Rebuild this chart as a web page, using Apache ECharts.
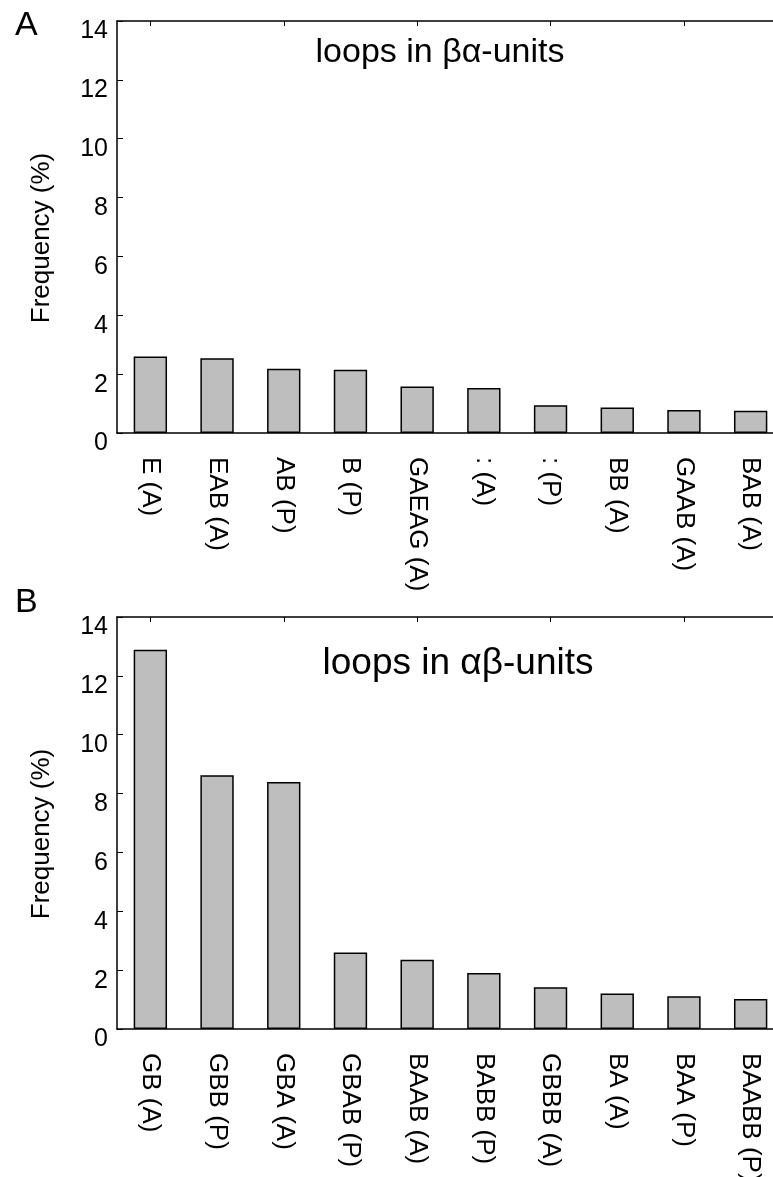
<!DOCTYPE html>
<html>
<head>
<meta charset="utf-8">
<script src="https://cdn.jsdelivr.net/npm/echarts@6/dist/echarts.min.js"></script>
<style>
html,body{margin:0;padding:0;background:#fff;}
#chart{width:773px;height:1177px;}
</style>
</head>
<body>
<div id="chart"></div>
<script>
// ---- data ----
const catsA = ['E (A)', 'EAB (A)', 'AB (P)', 'B (P)', 'GAEAG (A)', ': (A)', ': (P)', 'BB (A)', 'GAAB (A)', 'BAB (A)'];
const valsA = [2.60, 2.54, 2.18, 2.15, 1.58, 1.53, 0.94, 0.87, 0.78, 0.76];
const catsB = ['GB (A)', 'GBB (P)', 'GBA (A)', 'GBAB (P)', 'BAAB (A)', 'BABB (P)', 'GBBB (A)', 'BA (A)', 'BAA (P)', 'BAABB (P)'];
const valsB = [12.89, 8.62, 8.39, 2.60, 2.35, 1.90, 1.42, 1.21, 1.11, 1.02];
const yTicks = [0, 2, 4, 6, 8, 10, 12, 14];
const titleA = 'loops in βα-units';
const titleB = 'loops in αβ-units';
const yName = 'Frequency (%)';

const FONT = '"Liberation Sans", Arial, Helvetica, sans-serif';
const chart = echarts.init(document.getElementById('chart'), null, {renderer: 'canvas'});

function grid(top) {
  return {left: 117, right: -11, top: top, height: 412, outerBoundsMode: 'none', containLabel: false};
}
function xBottom(gi, cats) {
  return {
    type: 'category', gridIndex: gi, data: cats, position: 'bottom',
    axisLine: {show: true, lineStyle: {color: '#000', width: 1.5}},
    axisTick: {show: false},
    axisLabel: {rotate: -90, margin: 24, fontSize: 26, color: '#000', fontFamily: FONT, interval: 0}
  };
}
function xTop(gi, cats) {
  return {
    type: 'category', gridIndex: gi, data: cats, position: 'top',
    axisLine: {show: true, lineStyle: {color: '#000', width: 1.5}},
    axisTick: {show: true, inside: true, length: 5, alignWithLabel: true, lineStyle: {color: '#000', width: 1}},
    axisLabel: {show: false}
  };
}
function yAx(gi) {
  return {
    type: 'value', gridIndex: gi, min: 0, max: 14, interval: 2,
    name: yName, nameLocation: 'middle', nameGap: 62,
    nameTextStyle: {fontSize: 26, color: '#000', fontFamily: FONT, padding: [0, 22, 0, 0]},
    axisLine: {show: true, lineStyle: {color: '#000', width: 1.5}},
    axisTick: {show: true, inside: true, length: 6, lineStyle: {color: '#000', width: 1}},
    splitLine: {show: false},
    axisLabel: {
      fontSize: 25, color: '#000', fontFamily: FONT, margin: 9,
      verticalAlign: 'top', lineHeight: 21,
      formatter: v => (yTicks.indexOf(v) >= 0 ? String(v) : '')
    }
  };
}
function bars(xi, yi, vals) {
  return {
    type: 'bar', xAxisIndex: xi, yAxisIndex: yi, data: vals, barWidth: '50%',
    itemStyle: {color: '#bebebe', borderColor: '#000', borderWidth: 1.5},
    silent: true
  };
}

chart.setOption({
  animation: false,
  backgroundColor: '#fff',
  grid: [grid(21), grid(617)],
  xAxis: [xBottom(0, catsA), xTop(0, catsA), xBottom(1, catsB), xTop(1, catsB)],
  yAxis: [yAx(0), yAx(1)],
  series: [bars(0, 0, valsA), bars(2, 1, valsB)],
  graphic: [
    {type: 'text', x: 440, y: 53, style: {text: titleA, font: '34px ' + FONT, fill: '#000', textAlign: 'center', textVerticalAlign: 'middle'}},
    {type: 'text', x: 458, y: 664, style: {text: titleB, font: '37px ' + FONT, fill: '#000', textAlign: 'center', textVerticalAlign: 'middle'}},
    {type: 'text', x: 15, y: 26, style: {text: 'A', font: '34px ' + FONT, fill: '#000', textAlign: 'left', textVerticalAlign: 'middle'}},
    {type: 'text', x: 15, y: 603, style: {text: 'B', font: '34px ' + FONT, fill: '#000', textAlign: 'left', textVerticalAlign: 'middle'}}
  ]
});
</script>
</body>
</html>
